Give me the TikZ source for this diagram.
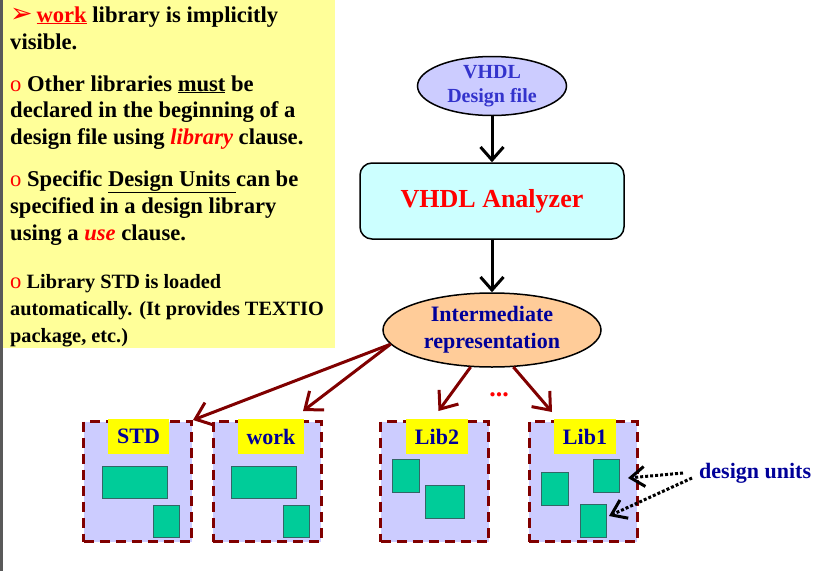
\documentclass[tikz,border=0pt]{standalone}
\usepackage{fontspec}
\setmainfont{Liberation Serif}
\newfontfamily\symfont{DejaVu Sans}
\usetikzlibrary{arrows.meta,shapes.geometric,calc}
\definecolor{NoteYellow}{HTML}{FFFF99}
\definecolor{FileBlue}{HTML}{CCCCFF}
\definecolor{FileText}{HTML}{3333CC}
\definecolor{AnaCyan}{HTML}{CCFFFF}
\definecolor{RepPeach}{HTML}{FFCC99}
\definecolor{NavyText}{HTML}{000099}
\definecolor{LibRed}{HTML}{800000}
\definecolor{UnitGreen}{HTML}{00CC99}
\definecolor{UnitEdge}{HTML}{336666}
\definecolor{TagYellow}{HTML}{FFFF00}

\begin{document}
\begin{tikzpicture}[x=1pt, y=-1pt,
    note/.style={anchor=base west, inner sep=0pt, font=\fontsize{22.6}{27}\selectfont\bfseries},
    smallnote/.style={note, font=\fontsize{20.3}{27}\selectfont\bfseries},
    flow/.style={-{Straight Barb[length=13pt,width=23pt,line width=3pt]}, line width=3pt},
    feed/.style={-{Straight Barb[length=15pt,width=24pt,line width=3pt]}, line width=3pt, LibRed},
    pointer/.style={-{Straight Barb[length=14pt,width=20pt,line width=3pt]}, line width=3pt, dash pattern=on 3pt off 2pt},
    library/.style={draw=LibRed, fill=FileBlue, line width=3pt, dash pattern=on 10pt off 6pt,
        minimum width=108pt, minimum height=120pt, inner sep=0pt},
    tag/.style={fill=TagYellow, text=NavyText, font=\fontsize{22}{22}\selectfont\bfseries,
        minimum height=35pt, inner xsep=9pt, anchor=north},
    unit/.style={draw=UnitEdge, fill=UnitGreen, line width=1pt, inner sep=0pt, anchor=north west},
]
    \useasboundingbox (0,0) rectangle (817,571);

    % Note panel on the left
    \fill[NoteYellow] (0,0) rectangle (335,348);
    \draw[line width=2.5pt, gray!70!black] (1.5,0) -- (1.5,571);

    \node[note] (l1) at (10,22) {{\color{red}\symfont\fontsize{27}{27}\selectfont ➢}\,{\color{red}\underline{work}} library is implicitly};
    \node[note] (l2) at (10,49) {visible.};

    \node[note] (l3) at (10,91) {{\color{red}\mdseries o} Other libraries \underline{must} be};
    \node[note] (l4) at (10,117) {declared in the beginning of a};
    \node[note] (l5) at (10,144) {design file using {\color{red}\itshape library} clause.};

    \node[note] (l6) at (10,186) {{\color{red}\mdseries o} Specific \underline{Design Units\ }can be};
    \node[note] (l7) at (10,213) {specified in a design library};
    \node[note] (l8) at (10,240) {using a {\color{red}\itshape use} clause.};

    \node[smallnote] (l9) at (10,288) {{\color{red}\mdseries\fontsize{22.6}{22.6}\selectfont o} Library STD is loaded};
    \node[smallnote] (l10) at (10,315) {automatically. (It provides TEXTIO};
    \node[smallnote] (l11) at (10,342) {package, etc.)};

    % Analysis flow
    \node[ellipse, draw, line width=1.5pt, fill=FileBlue, text=FileText, inner sep=0pt,
        minimum width=149pt, minimum height=59pt, align=center,
        font=\fontsize{20}{24}\selectfont\bfseries] (dfile) at (492,86) {VHDL\\Design file};
    \node[draw, line width=1.5pt, fill=AnaCyan, text=red, rounded corners=12pt,
        minimum width=264pt, minimum height=76pt,
        font=\fontsize{26}{26}\selectfont\bfseries] (ana) at (492,201) {VHDL Analyzer};
    \node[ellipse, draw, line width=1.5pt, fill=RepPeach, text=NavyText, inner sep=0pt,
        minimum width=218pt, minimum height=74pt, align=center,
        font=\fontsize{22}{27}\selectfont\bfseries] (inter) at (492,330) {Intermediate\\representation};

    \draw[flow] (dfile) -- (ana);
    \draw[flow] (ana) -- (inter);

    % Design libraries
    \node[library] (std) at (137.5,481.5) {};
    \node[library] (work) at (267,481.5) {};
    \node[library] (lib2) at (434.5,481.5) {};
    \node[library] (lib1) at (583,481.5) {};

    \node[tag] (tstd) at ($(std.north)+(1,-1)$) {STD};
    \node[tag] (twork) at ($(work.north)+(4,-1)$) {work};
    \node[tag] (tlib2) at ($(lib2.north)+(2.5,-1)$) {Lib2};
    \node[tag] (tlib1) at ($(lib1.north)+(2,-1)$) {Lib1};

    % Design units
    \node[unit, minimum width=65pt, minimum height=32pt] (std1) at (102,466) {};
    \node[unit, minimum width=26pt, minimum height=32pt] (std2) at (153,505) {};
    \node[unit, minimum width=65pt, minimum height=32pt] (work1) at (231,466) {};
    \node[unit, minimum width=26pt, minimum height=32pt] (work2) at (283,505) {};
    \node[unit, minimum width=27pt, minimum height=33pt] (lib2a) at (392,459) {};
    \node[unit, minimum width=39pt, minimum height=33pt] (lib2b) at (425,485) {};
    \node[unit, minimum width=27pt, minimum height=33pt] (lib1a) at (541,472) {};
    \node[unit, minimum width=26pt, minimum height=33pt] (lib1b) at (593,459) {};
    \node[unit, minimum width=26pt, minimum height=33pt] (lib1c) at (580,504) {};

    % Representation goes into the libraries
    \draw[feed] (inter.188) -- (std.north east);
    \draw[feed] (inter.188) -- ($(work.north)+(36,-9)$);
    \draw[feed] (inter.240) -- ($(lib2.north)+(4,-9)$);
    \draw[feed] (inter.300) -- ($(lib1.north)+(-31,-8)$);
    \node[text=red, font=\fontsize{26}{26}\selectfont\bfseries] (dots) at (499,395) {...};

    % Design units label
    \node[anchor=base west, inner sep=0pt, text=NavyText, font=\fontsize{22}{22}\selectfont\bfseries]
        (dunits) at (699,478) {design units};
    \coordinate (p1) at (683,473);
    \coordinate (p2) at (692,478);
    \draw[pointer] (p1) -- ($(lib1b.east)+(8,2)$);
    \draw[pointer] (p2) -- ($(lib1c.east)+(2,-5)$);
\end{tikzpicture}
\end{document}
